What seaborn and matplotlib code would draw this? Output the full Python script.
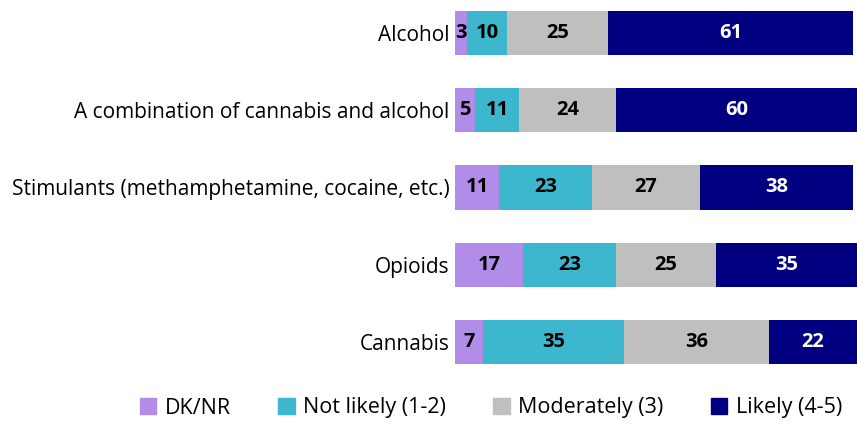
import numpy as np
import pandas as pd
import matplotlib
matplotlib.use("Agg")
import matplotlib.pyplot as plt
import seaborn as sns

# data
categories = ["Alcohol", "A combination of cannabis and alcohol",
              "Stimulants (methamphetamine, cocaine, etc.)", "Opioids", "Cannabis"]
series = ["DK/NR", "Not likely (1-2)", "Moderately (3)", "Likely (4-5)"]
dk_nr = [3, 5, 11, 17, 7]
not_likely = [10, 11, 23, 23, 35]
moderately = [25, 24, 27, 25, 36]
likely = [61, 60, 38, 35, 22]
colors = ["#B18CE8", "#3DB7CE", "#BFBFBF", "#000080"]

sns.set_theme(style="white")
plt.rcParams['font.family'] = ['Open Sans', 'DejaVu Sans']
plt.rcParams['text.color'] = 'black'
plt.rcParams['ytick.color'] = 'black'

df = pd.DataFrame({"cat": categories, "DK/NR": dk_nr, "Not likely (1-2)": not_likely,
                   "Moderately (3)": moderately, "Likely (4-5)": likely})
vals = df[series].values
cum = vals.cumsum(axis=1)

fig = plt.figure(figsize=(8.57, 4.24), dpi=100)
ax = fig.add_axes([0.531, 0.1156, 0.469, 0.8844])

# stacked bars: draw cumulative totals from largest to smallest
for j in range(len(series) - 1, -1, -1):
    tmp = pd.DataFrame({"cat": categories, "v": cum[:, j]})
    sns.barplot(data=tmp, x="v", y="cat", orient="h", color=colors[j],
                saturation=1, width=0.57, ax=ax, linewidth=0)

for i in range(len(categories)):
    for j in range(len(series)):
        left = cum[i, j] - vals[i, j]
        ax.text(left + vals[i, j] / 2, i, str(vals[i, j]), ha="center", va="center",
                fontsize=14.5, fontweight="bold",
                color="white" if j == 3 else "black")

ax.set_xlim(0, 100)
ax.set_ylim(4.427, -0.427)
ax.set_xlabel("")
ax.set_ylabel("")
ax.set_xticks([])
ax.tick_params(axis="y", length=0, pad=4, labelsize=15, labelcolor="black")
sns.despine(ax=ax, left=True, bottom=True)

handles = [plt.Rectangle((0, 0), 1, 1, color=c) for c in colors]
fig.legend(handles, series, loc="center", bbox_to_anchor=(491 / 857, 1 - 408 / 424),
           ncol=4, frameon=False, fontsize=15.5, handlelength=0.75, handleheight=0.75,
           columnspacing=2.2, handletextpad=0.4)

fig.savefig("out.png", dpi=100)
